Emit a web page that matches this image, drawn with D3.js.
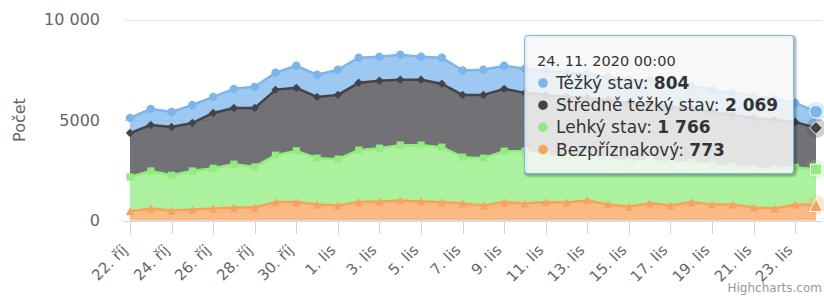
<!DOCTYPE html>
<html><head><meta charset="utf-8">
<script src="https://cdn.jsdelivr.net/npm/d3@7"></script>
<style>body{margin:0;background:#fff}svg{display:block}text{font-family:"DejaVu Sans",Verdana,sans-serif}</style>
</head><body>
<svg id="c" width="824" height="297"></svg>
<script>
const dates = ["2020-10-22","2020-10-23","2020-10-24","2020-10-25","2020-10-26","2020-10-27","2020-10-28","2020-10-29","2020-10-30","2020-10-31",
"2020-11-01","2020-11-02","2020-11-03","2020-11-04","2020-11-05","2020-11-06","2020-11-07","2020-11-08","2020-11-09","2020-11-10",
"2020-11-11","2020-11-12","2020-11-13","2020-11-14","2020-11-15","2020-11-16","2020-11-17","2020-11-18","2020-11-19","2020-11-20",
"2020-11-21","2020-11-22","2020-11-23","2020-11-24"];
const severe = [750,800,750,900,800,950,1050,850,1100,1100,1250,1250,1200,1250,1150,1300,1215,1250,1150,1200,1200,1200,1200,1150,1150,1150,1150,1100,1100,1100,1100,1050,950,804];
const moderate = [2185,2285,2400,2385,2750,2800,2935,3250,3135,3050,3200,3350,3350,3250,3250,3150,3100,3150,3100,2900,3000,3000,2900,2950,2950,2800,2800,2700,2650,2550,2500,2450,2250,2069];
const mild = [1700,1865,1750,1915,2000,2150,2015,2335,2550,2300,2300,2585,2650,2750,2800,2735,2300,2350,2535,2600,2335,2250,2200,2250,2200,2135,2100,1985,1950,1900,1950,1950,1850,1766];
const asymptomatic = [465,600,500,550,600,650,650,915,915,800,750,915,950,1000,950,915,850,750,915,850,915,900,1000,800,700,865,750,915,800,800,650,600,800,773];
const seriesNames = ["Těžký stav","Středně těžký stav","Lehký stav","Bezpříznakový"];
const seriesColors = ["#7cb5ec","#434348","#90ed7d","#f7a35c"];
const seriesSymbols = ["circle","diamond","square","triangle"];
const yTicks = [0,5000,10000];
const yTickLabels = ["0","5000","10 000"];
const xTickDates = ["2020-10-22","2020-10-24","2020-10-26","2020-10-28","2020-10-30","2020-11-01","2020-11-03","2020-11-05","2020-11-07","2020-11-09","2020-11-11","2020-11-13","2020-11-15","2020-11-17","2020-11-19","2020-11-21","2020-11-23"];
const xTickLabels = ["22. říj","24. říj","26. říj","28. říj","30. říj","1. lis","3. lis","5. lis","7. lis","9. lis","11. lis","13. lis","15. lis","17. lis","19. lis","21. lis","23. lis"];
const yAxisTitle = "Počet";
const tooltipHeader = "24. 11. 2020 00:00";
const creditText = "Highcharts.com";

const svg = d3.select("#c");
const parse = d3.utcParse("%Y-%m-%d");
const X = d3.scaleUtc().domain([parse(dates[0]), parse(dates[dates.length-1])]).range([130, 816]);
const Y = d3.scaleLinear().domain([0, 10000]).range([220.5, 19.5]);
const plotL = 124, plotR = 822;

// grid
svg.append("g").selectAll("line").data(yTicks.filter(v=>v>0)).join("line")
  .attr("x1", plotL).attr("x2", plotR).attr("y1", d=>Math.round(Y(d))+0.5).attr("y2", d=>Math.round(Y(d))+0.5)
  .attr("stroke", "#e6e6e6").attr("stroke-width", 1);

// data table
const series = [severe, moderate, mild, asymptomatic];
const table = dates.map((d,i)=>({date: parse(d), s0: severe[i], s1: moderate[i], s2: mild[i], s3: asymptomatic[i]}));
const stack = d3.stack().keys(["s3","s2","s1","s0"]);
const stacked = stack(table); // index 0 = asym
const layerFor = si => stacked[3 - si];

const area = d3.area().x(d=>X(d.data.date)).y0(d=>Y(d[0])).y1(d=>Y(d[1]));
const line = d3.line().x(d=>X(d.data.date)).y(d=>Y(d[1]));

const gA = svg.append("g");
[0,1,2,3].forEach(si=>{
  gA.append("path").datum(layerFor(si)).attr("d", area)
    .attr("fill", seriesColors[si]).attr("fill-opacity", 0.75);
});
[0,1,2,3].forEach(si=>{
  gA.append("path").datum(layerFor(si)).attr("d", line)
    .attr("fill","none").attr("stroke", seriesColors[si]).attr("stroke-width", 2.5).attr("stroke-linejoin","round");
});

function sym(type, r) {
  if (type === "circle") return `M${-r},0a${r},${r} 0 1,0 ${2*r},0a${r},${r} 0 1,0 ${-2*r},0Z`;
  if (type === "diamond") return `M0,${-r}L${r},0L0,${r}L${-r},0Z`;
  if (type === "square") return `M${-r},${-r}H${r}V${r}H${-r}Z`;
  return `M0,${-r}L${r},${r}L${-r},${r}Z`;
}
const last = dates.length - 1;
const gM = svg.append("g");
[0,1,2,3].forEach(si=>{
  const L = layerFor(si);
  L.forEach((d,i)=>{
    if (i === last) return;
    gM.append("path").attr("d", sym(seriesSymbols[si], seriesSymbols[si]==="square"?3.6:4.2))
      .attr("transform", `translate(${X(d.data.date)},${Y(d[1])})`).attr("fill", seriesColors[si]);
  });
});
// hover halos + markers at last point
[0,1,2,3].forEach(si=>{
  const d = layerFor(si)[last];
  gM.append("circle").attr("cx", X(d.data.date)).attr("cy", Y(d[1])).attr("r", 10)
    .attr("fill", seriesColors[si]).attr("fill-opacity", 0.25);
});
[0,1,2,3].forEach(si=>{
  const d = layerFor(si)[last];
  gM.append("path").attr("d", sym(seriesSymbols[si], seriesSymbols[si]==="square"?5.5:6.5))
    .attr("transform", `translate(${X(d.data.date)},${Y(d[1])})`).attr("fill", seriesColors[si])
    .attr("stroke","#fff").attr("stroke-width",1);
});

// x axis
svg.append("line").attr("x1", plotL).attr("x2", plotR).attr("y1", 221.5).attr("y2", 221.5).attr("stroke","#ccd6eb");
const gx = svg.append("g");
xTickDates.forEach((t,i)=>{
  const x = Math.round(X(parse(t))) + 0.5;
  gx.append("line").attr("x1", x).attr("x2", x).attr("y1", 221.5).attr("y2", 234).attr("stroke","#ccd6eb");
  gx.append("text").attr("transform", `translate(${x-2},${251}) rotate(-45)`)
    .attr("text-anchor","end").attr("font-size", 15).attr("fill","#666").text(xTickLabels[i]);
});
// y axis labels
yTicks.forEach((v,i)=>{
  svg.append("text").attr("x", 100).attr("y", Y(v)+5.5).attr("text-anchor","end")
    .attr("font-size", 16).attr("fill","#666").text(yTickLabels[i]);
});
svg.append("text").attr("transform","translate(25,120) rotate(-90)").attr("text-anchor","middle")
  .attr("font-size", 16).attr("fill","#666").text(yAxisTitle);

// credit
svg.append("text").attr("x", 822).attr("y", 292).attr("text-anchor","end").attr("font-size", 12)
  .attr("fill","#999").text(creditText);

// tooltip
const fmt = d3.formatLocale({decimal:",", thousands:" ", grouping:[3], currency:["","Kč"]}).format(",d");
const tx = 524.5, ty = 35.5, tw = 269, th = 138;
const gT = svg.append("g");
[3,2,1].forEach(k=>{
  gT.append("rect").attr("x", tx+k*0.5).attr("y", ty+k*0.5).attr("width", tw).attr("height", th).attr("rx",3)
    .attr("fill","none").attr("stroke","#000").attr("stroke-opacity", 0.05*k).attr("stroke-width", k*1.5);
});
gT.append("rect").attr("x", tx).attr("y", ty).attr("width", tw).attr("height", th).attr("rx",3)
  .attr("fill","rgba(247,247,247,0.85)").attr("stroke", seriesColors[0]).attr("stroke-width",1);
gT.append("text").attr("x", 537).attr("y", 65.5).attr("font-size", 14.5).attr("fill","#333").text(tooltipHeader);
[0,1,2,3].forEach(si=>{
  const yb = 89 + si*22.2;
  gT.append("circle").attr("cx", 543).attr("cy", yb-6).attr("r", 4.8).attr("fill", seriesColors[si]);
  const t = gT.append("text").attr("x", 556).attr("y", yb).attr("font-size", 17).attr("fill","#333");
  t.append("tspan").text(seriesNames[si] + ": ");
  t.append("tspan").attr("font-weight","bold").text(fmt(series[si][last]));
});
</script>
</body></html>
